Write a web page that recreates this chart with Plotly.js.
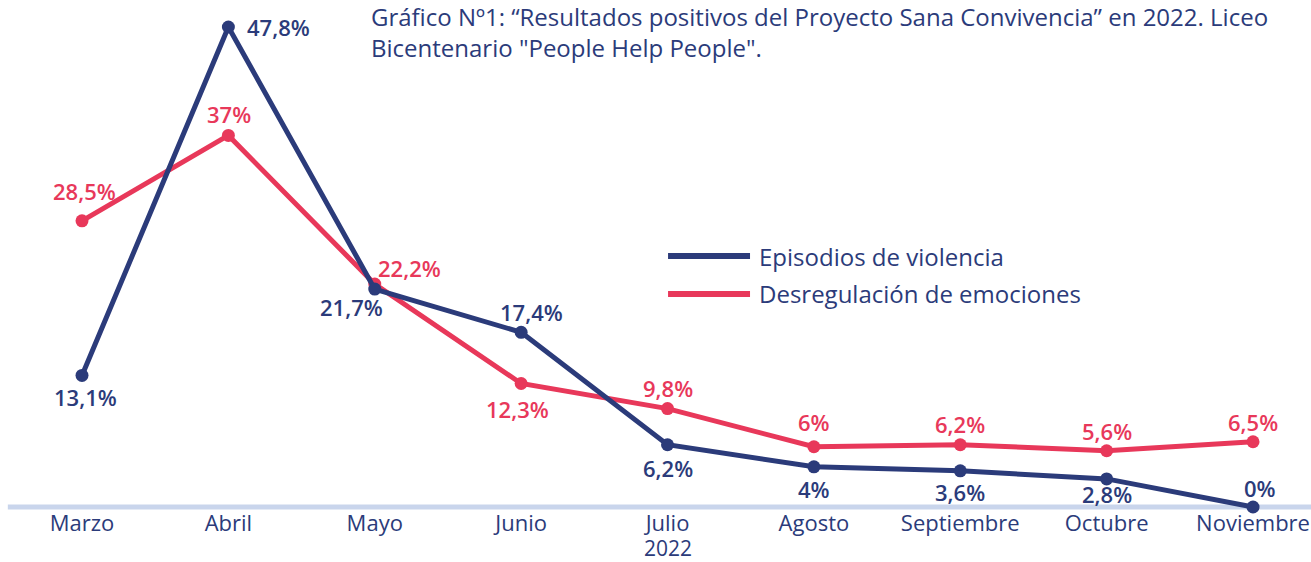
<!DOCTYPE html>
<html>
<head>
<meta charset="utf-8">
<script src="https://cdn.plot.ly/plotly-3.0.1.min.js"></script>
<style>html,body{margin:0;padding:0;background:#fff;}#chart{width:1311px;height:562px;}</style>
</head>
<body>
<div id="chart"></div>
<script>
const months = ["Marzo","Abril","Mayo","Junio","Julio","Agosto","Septiembre","Octubre","Noviembre"];
const seriesNames = ["Episodios de violencia","Desregulación de emociones"];
const violencia = [13.1, 47.8, 21.7, 17.4, 6.2, 4, 3.6, 2.8, 0];
const desregulacion = [28.5, 37, 22.2, 12.3, 9.8, 6, 6.2, 5.6, 6.5];
const yearLabel = "2022";
const yearMonth = "Julio";
const titleText = "Gráfico Nº1: “Resultados positivos del Proyecto Sana Convivencia” en 2022. Liceo<br>Bicentenario \"People Help People\".";

// label offsets (px) for each point
const offV = [[3,-22],[50,0],[-23,-18],[10,20],[0,-23],[0,-22],[0,-21],[0,-15],[7,19]];
const offD = [[2,30],[1,21],[35,16],[-4,-26],[0,21],[0,25],[0,21],[0,20],[0,20]];

const NAVY = "#2b3b7a";
const RED = "#e8385a";
const FONT = "'Open Sans', sans-serif";

const fmt = v => String(v).replace(".", ",") + "%";

const traces = [
  {x: months, y: desregulacion, name: seriesNames[1], type: "scatter", mode: "lines+markers",
   line: {color: RED, width: 5}, marker: {color: RED, size: 13}, cliponaxis: false, hoverinfo: "none"},
  {x: months, y: violencia, name: seriesNames[0], type: "scatter", mode: "lines+markers",
   line: {color: NAVY, width: 5}, marker: {color: NAVY, size: 13}, cliponaxis: false, hoverinfo: "none"}
];

const annotations = [];
violencia.forEach((v, i) => annotations.push({x: months[i], y: v, xref: "x", yref: "y", text: fmt(v),
  showarrow: false, xshift: offV[i][0], yshift: offV[i][1], font: {family: FONT, size: 22, color: NAVY, weight: 600}}));
desregulacion.forEach((v, i) => annotations.push({x: months[i], y: v, xref: "x", yref: "y", text: fmt(v),
  showarrow: false, xshift: offD[i][0], yshift: offD[i][1], font: {family: FONT, size: 22, color: RED, weight: 600}}));

// title as annotation anchored at top-left
annotations.push({xref: "paper", yref: "paper", x: (369 - 22) / 1289, y: 1, yshift: 2, xanchor: "left", yanchor: "top",
  align: "left", text: titleText, showarrow: false, font: {family: FONT, size: 24, color: NAVY}});

// year label under Julio (x-axis title)
annotations.push({xref: "x", yref: "paper", x: yearMonth, y: 0, yanchor: "middle", yshift: -36,
  text: yearLabel, showarrow: false, font: {family: FONT, size: 21, color: NAVY}});

// manual legend
const legY = [0.5, 0.4258];
const legCol = [NAVY, RED];
const shapes = [
  {type: "line", xref: "paper", yref: "y", x0: -0.011, x1: 1, y0: 0, y1: 0, layer: "below",
   line: {color: "#c9d5ec", width: 5}}
];
seriesNames.forEach((n, i) => {
  shapes.push({type: "line", xref: "paper", yref: "paper", x0: 0.5012, x1: 0.5648, y0: legY[i], y1: legY[i],
    line: {color: legCol[i], width: 6}});
  annotations.push({xref: "paper", yref: "paper", x: 0.5702, y: legY[i], xanchor: "left", yanchor: "middle",
    text: n, showarrow: false, font: {family: FONT, size: 24, color: NAVY}});
});

const layout = {
  width: 1311, height: 562,
  margin: {l: 22, r: 0, t: 0, b: 50},
  paper_bgcolor: "#fff", plot_bgcolor: "#fff",
  showlegend: false,
  font: {family: FONT, color: NAVY},
  xaxis: {type: "category", range: [-0.4099, 8.396], showgrid: false, zeroline: false, showline: false,
          ticks: "", tickfont: {family: FONT, size: 22, color: NAVY}, ticklabelstandoff: -4},
  yaxis: {range: [-0.498, 50.49], visible: false, showgrid: false, zeroline: false},
  shapes: shapes,
  annotations: annotations
};

Plotly.newPlot("chart", traces, layout, {displayModeBar: false, staticPlot: true});
</script>
</body>
</html>
